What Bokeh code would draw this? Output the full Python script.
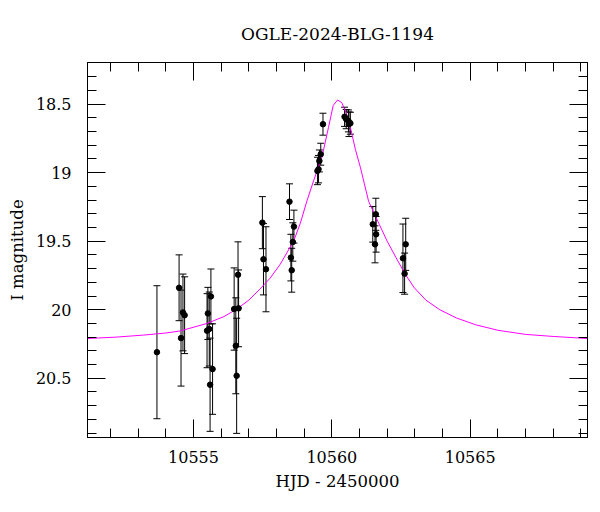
from bokeh.plotting import figure
from bokeh.models import (ColumnDataSource, Whisker, TeeHead, LinearAxis, FixedTicker,
                          CustomJSTickFormatter, Range1d)
from bokeh.embed import file_html
from bokeh.resources import INLINE

# ---- data ----
hjd = [10553.68,
       10554.48, 10554.62, 10554.68, 10554.55,
       10555.49, 10555.52, 10555.57, 10555.60, 10555.63, 10555.69,
       10556.47, 10556.53, 10556.56, 10556.61, 10556.63,
       10557.49, 10557.53, 10557.62,
       10558.47, 10558.52, 10558.55, 10558.59, 10558.63,
       10559.48, 10559.52, 10559.55, 10559.60, 10559.68,
       10560.46, 10560.52, 10560.60, 10560.62, 10560.67,
       10561.48, 10561.56, 10561.59, 10561.60,
       10562.57, 10562.63, 10562.67]
mag = [20.31,
       19.84, 20.02, 20.04, 20.207,
       20.153, 20.027, 20.141, 20.547, 19.903, 20.433,
       19.995, 20.263, 20.482, 19.745, 19.99,
       19.365, 19.632, 19.705,
       19.212, 19.62, 19.712, 19.506, 19.394,
       18.988, 18.975, 18.915, 18.866, 18.647,
       18.593, 18.61, 18.623, 18.647, 18.64,
       19.377, 19.523, 19.304, 19.45,
       19.625, 19.737, 19.523]
err = [0.485,
       0.24, 0.28, 0.28, 0.35,
       0.27, 0.19, 0.27, 0.34, 0.20, 0.33,
       0.30, 0.35, 0.42, 0.24, 0.28,
       0.19, 0.26, 0.31,
       0.13, 0.17, 0.16, 0.14, 0.12,
       0.10, 0.10, 0.08, 0.08, 0.08,
       0.07, 0.07, 0.08, 0.09, 0.08,
       0.13, 0.135, 0.117, 0.13,
       0.25, 0.15, 0.19]

model_t = [10551.17, 10552.20, 10553.20, 10554.00, 10554.52, 10555.49, 10556.10,
           10556.57, 10557.00, 10557.40, 10557.77, 10558.13, 10558.62, 10558.86,
           10559.10, 10559.34, 10559.64, 10559.88, 10560.05, 10560.21, 10560.36,
           10560.53, 10560.67, 10560.85, 10561.03, 10561.33, 10561.72, 10562.00,
           10562.32, 10562.65, 10562.98, 10563.40, 10563.90, 10564.50, 10565.20,
           10566.00, 10567.00, 10568.00, 10569.24]
model_mag = [20.21, 20.20, 20.185, 20.17, 20.155, 20.10, 20.05,
             19.995, 19.93, 19.85, 19.77, 19.67, 19.50, 19.37,
             19.207, 19.06, 18.89, 18.67, 18.51, 18.47, 18.49,
             18.57, 18.67, 18.83, 18.96, 19.21, 19.38, 19.50,
             19.62, 19.74, 19.84, 19.93, 20.00, 20.06, 20.11,
             20.15, 20.18, 20.195, 20.21]

x_major = [10555, 10560, 10565]
x_minor = list(range(10551, 10570))
y_major = [18.5, 19.0, 19.5, 20.0, 20.5]
y_minor = [round(18.2 + 0.1 * i, 1) for i in range(28)]

title_text = "OGLE-2024-BLG-1194"
x_label = "HJD - 2450000"
y_label = "I magnitude"

FONT = "DejaVu Serif"

src = ColumnDataSource(dict(
    x=hjd, y=mag,
    lo=[m - e for m, e in zip(mag, err)],
    hi=[m + e for m, e in zip(mag, err)],
))

p = figure(width=600, height=512, output_backend="svg", toolbar_location=None,
           x_range=Range1d(10551.17, 10569.24), y_range=Range1d(20.932, 18.197),
           min_border_left=87, min_border_right=13, min_border_top=62, min_border_bottom=75,
           x_axis_location=None, y_axis_location=None)
p.grid.visible = False
p.outline_line_color = "black"
p.background_fill_color = "white"
p.border_fill_color = "white"

p.title.text = title_text
p.title.align = "center"
p.title.text_font = FONT
p.title.text_font_size = "17px"
p.title.text_font_style = "normal"
p.title.text_color = "black"
p.title.standoff = 37

fmt = CustomJSTickFormatter(code="return tick.toString();")
blank = CustomJSTickFormatter(code="return '';")


def style(ax, labels):
    ax.axis_line_color = "black"
    ax.major_tick_line_color = "black"
    ax.minor_tick_line_color = "black"
    ax.major_tick_in = 18
    ax.major_tick_out = 0
    ax.minor_tick_in = 9
    ax.minor_tick_out = 0
    ax.major_label_text_font = FONT
    ax.major_label_text_font_size = "16px"
    ax.major_label_text_color = "black"
    ax.axis_label_text_font = FONT
    ax.axis_label_text_font_size = "16.5px"
    ax.axis_label_text_font_style = "normal"
    ax.axis_label_text_color = "black"
    ax.formatter = fmt if labels else blank
    if not labels:
        ax.major_label_standoff = 0


xt = FixedTicker(ticks=x_major, minor_ticks=x_minor)
yt = FixedTicker(ticks=y_major, minor_ticks=y_minor)

bx = LinearAxis(ticker=xt, axis_label=x_label)
style(bx, True)
bx.major_label_standoff = 13
bx.axis_label_standoff = 6
tx = LinearAxis(ticker=xt)
style(tx, False)
ly = LinearAxis(ticker=yt, axis_label=y_label)
style(ly, True)
ly.major_label_standoff = 16
ly.axis_label_standoff = 6
ry = LinearAxis(ticker=yt)
style(ry, False)

p.add_layout(bx, "below")
p.add_layout(tx, "above")
p.add_layout(ly, "left")
p.add_layout(ry, "right")

p.line(model_t, model_mag, line_color="#ff00ff", line_width=1)

wh = Whisker(base="x", lower="lo", upper="hi", source=src, dimension="height",
             line_color="black", line_width=1,
             lower_head=TeeHead(size=7, line_color="black", line_width=1),
             upper_head=TeeHead(size=7, line_color="black", line_width=1))
p.add_layout(wh)
p.scatter("x", "y", source=src, size=5.5, fill_color="black", line_color="black")

open("out.html", "w").write(file_html(p, INLINE))
